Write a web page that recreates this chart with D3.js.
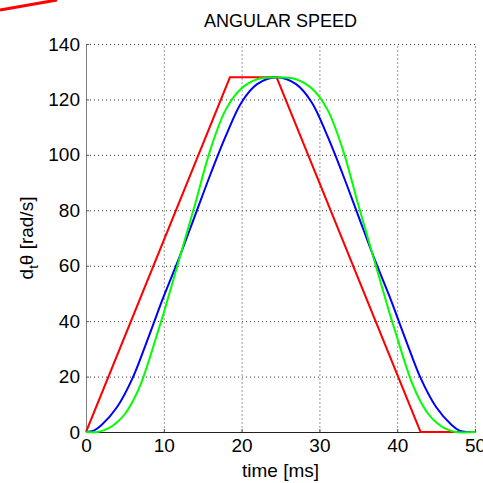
<!DOCTYPE html>
<html>
<head>
<meta charset="utf-8">
<script src="https://cdn.jsdelivr.net/npm/d3@7"></script>
<style>
body{margin:0;background:#fff;}
text{font-family:"Liberation Sans",Arial,sans-serif;}
</style>
</head>
<body>
<svg id="chart"></svg>
<script>
// values: time [ms] and angular speed [rad/s]
var redT=[0,18.5,24.5,43,50];
var redV=[0,128,128,0,0];
var blueT=[0,1,2,4,6,8,10,12,14,16,18,20,22,24.5,27,29,31,33,35,37,39,41,43,45,47,48,49,50];
var blueV=[0,0.5,2.5,9,19.5,34,49,63,78,93,107,119,125.5,128,125.5,119,107,93,78,63,49,34,19.5,9,2.5,0.5,0,0];
var greenT=[0,1.5,3,4,5,6,7,8,9,10,12,14,16,18,20,22,24.5,27,29,31,33,35,37,39,40,41,42,43,44,45,46,47.5,50];
var greenV=[0,0,1.5,3.5,6.5,11,17,25,34,43,62.5,82,102,116.5,124,127.3,128,127.3,124,116.5,102,82,62.5,43,34,25,17,11,6.5,3.5,1.5,0,0];
var xTicks=[0,10,20,30,40,50];
var yTicks=[0,20,40,60,80,100,120,140];

var W=483,H=483;
var margin={left:86,right:8,top:44,bottom:51};
var width=W-margin.left-margin.right;
var height=H-margin.top-margin.bottom;

var svg=d3.select("#chart").attr("width",W).attr("height",H);

// stray red mark at the top of the picture
svg.append("path")
   .attr("d","M0,10L57,0")
   .attr("stroke","#ff0000")
   .attr("stroke-width",3)
   .attr("fill","none");

svg.append("text")
   .attr("x",margin.left+width/2)
   .attr("y",27)
   .attr("text-anchor","middle")
   .style("font-size","18px")
   .text("ANGULAR SPEED");

var g=svg.append("g").attr("transform","translate("+margin.left+","+margin.top+")");

var xScale=d3.scaleLinear().domain([0,50]).range([0,width]);
var yScale=d3.scaleLinear().domain([0,140]).range([height,0]);

// dotted grid
g.append("g")
 .attr("class","ygrid")
 .call(d3.axisLeft(yScale).tickValues(yTicks).tickSize(-width).tickFormat(""))
 .call(function(s){
   s.select(".domain").remove();
   s.selectAll("line").attr("stroke","#333").attr("stroke-dasharray","1,3");
 });
g.append("g")
 .attr("class","xgrid")
 .attr("transform","translate(0,"+height+")")
 .call(d3.axisBottom(xScale).tickValues(xTicks).tickSize(-height).tickFormat(""))
 .call(function(s){
   s.select(".domain").remove();
   s.selectAll("line").attr("stroke","#999").attr("stroke-dasharray","2,2");
 });

// axes
var yAxis=d3.axisLeft(yScale).tickValues(yTicks).tickSizeInner(-3).tickSizeOuter(0).tickPadding(6);
var xAxis=d3.axisBottom(xScale).tickValues(xTicks).tickSizeInner(-3).tickSizeOuter(0).tickPadding(7);

g.append("g")
 .call(yAxis)
 .call(function(s){
   s.select(".domain").attr("stroke","#808080");
   s.selectAll("line").attr("stroke","#555");
   s.selectAll("text").style("font-size","19px").attr("fill","#000");
 });
g.append("g")
 .attr("transform","translate(0,"+height+")")
 .call(xAxis)
 .call(function(s){
   s.select(".domain").attr("stroke","#222");
   s.selectAll("line").attr("stroke","#555");
   s.selectAll("text").style("font-size","19px").attr("fill","#000");
 });

// curves
var pts=function(t,v){return t.map(function(d,i){return [d,v[i]];});};
var line=d3.line().x(function(d){return xScale(d[0]);}).y(function(d){return yScale(d[1]);});
var smooth=d3.line().curve(d3.curveCatmullRom.alpha(0.5)).x(function(d){return xScale(d[0]);}).y(function(d){return yScale(d[1]);});

g.append("path").datum(pts(redT,redV)).attr("d",line)
 .attr("fill","none").attr("stroke","#ff0000").attr("stroke-width",2);
g.append("path").datum(pts(blueT,blueV)).attr("d",smooth)
 .attr("fill","none").attr("stroke","#0000ff").attr("stroke-width",2);
g.append("path").datum(pts(greenT,greenV)).attr("d",smooth)
 .attr("fill","none").attr("stroke","#00ff00").attr("stroke-width",2);

// axis labels
svg.append("text")
   .attr("x",margin.left+width/2)
   .attr("y",477)
   .attr("text-anchor","middle")
   .style("font-size","19px")
   .text("time [ms]");

var yl=svg.append("text")
   .attr("transform","translate(33,"+(margin.top+height/2)+") rotate(-90)")
   .attr("text-anchor","middle")
   .style("font-size","19px");
yl.append("tspan").text("d");
yl.append("tspan").attr("dy",5).style("font-size","13px").text("t");
yl.append("tspan").attr("dy",-5).text("θ [rad/s]");
</script>
</body>
</html>
